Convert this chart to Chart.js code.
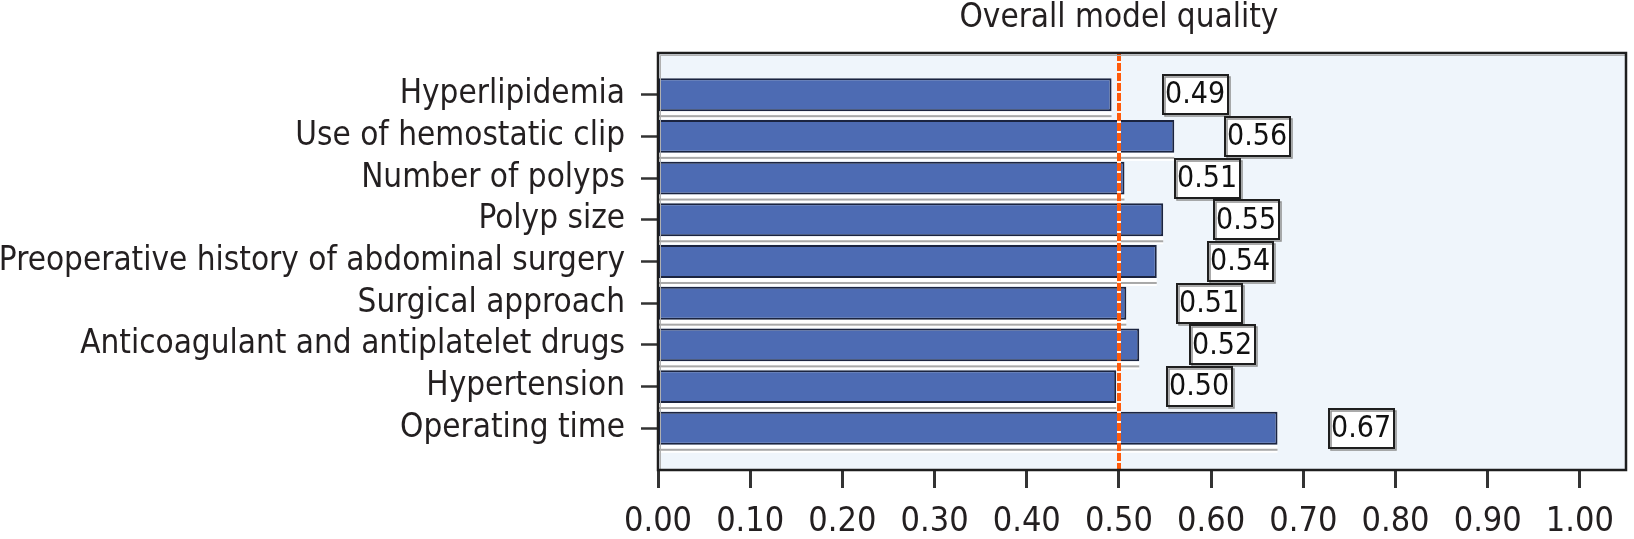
<!DOCTYPE html>
<html>
<head>
<meta charset="utf-8">
<script src="https://cdn.jsdelivr.net/npm/chart.js@4.4.1/dist/chart.umd.min.js"></script>
<style>
  html, body { margin: 0; padding: 0; background: #ffffff; }
  #wrap { width: 1634px; height: 539px; }
</style>
</head>
<body>
<div id="wrap"><canvas id="qualityChart"></canvas></div>
<script>
// data
const categories = [
    'Hyperlipidemia',
    'Use of hemostatic clip',
    'Number of polyps',
    'Polyp size',
    'Preoperative history of abdominal surgery',
    'Surgical approach',
    'Anticoagulant and antiplatelet drugs',
    'Hypertension',
    'Operating time'
];
const values = [0.492, 0.560, 0.506, 0.548, 0.541, 0.508, 0.522, 0.497, 0.672];
const valueLabels = ['0.49', '0.56', '0.51', '0.55', '0.54', '0.51', '0.52', '0.50', '0.67'];
const referenceLine = 0.5;
const xMin = 0, xMax = 1.05, xStep = 0.1;
const chartTitle = 'Overall model quality';

const FONT = "'DejaVu Sans Condensed', 'DejaVu Sans', sans-serif";
const TEXT = '#231f20';

// one empty slot above and below, like the original axis
const yLabels = ['', ...categories, ''];
const yData = [null, ...values, null];
const boxLabels = ['', ...valueLabels, ''];

const decor = {
    id: 'decor',
    beforeDraw(chart) {
        const { ctx, chartArea: a } = chart;
        ctx.save();
        ctx.fillStyle = '#eff5fb';
        ctx.fillRect(a.left, a.top, a.right - a.left, a.bottom - a.top);
        ctx.restore();
    },
    beforeDatasetsDraw(chart) {
        // white strip + soft grey shadow under every bar
        const { ctx } = chart;
        ctx.save();
        chart.getDatasetMeta(0).data.forEach((bar, i) => {
            if (yData[i] == null) return;
            const yb = bar.y + bar.height / 2;
            ctx.fillStyle = '#ffffff';
            ctx.fillRect(bar.base, yb, bar.x - bar.base, 8);
            ctx.fillStyle = '#a8a8a8';
            ctx.fillRect(bar.base, yb + 4, bar.x - bar.base, 2);
        });
        ctx.restore();
    },
    afterDatasetsDraw(chart) {
        const { ctx, chartArea: a } = chart;
        const xs = chart.scales.x;
        const lx = Math.round(xs.getPixelForValue(referenceLine));

        ctx.save();
        ctx.strokeStyle = '#fff3ea';
        ctx.lineWidth = 4;
        ctx.beginPath();
        ctx.moveTo(lx, a.top);
        ctx.lineTo(lx, a.bottom);
        ctx.stroke();
        ctx.strokeStyle = '#ff5a0a';
        ctx.setLineDash([8, 2]);
        ctx.stroke();
        ctx.setLineDash([]);

        // value boxes
        ctx.font = '30px ' + FONT;
        ctx.textBaseline = 'middle';
        ctx.textAlign = 'left';
        chart.getDatasetMeta(0).data.forEach((bar, i) => {
            if (yData[i] == null) return;
            const txt = boxLabels[i];
            const w = Math.round(ctx.measureText(txt).width + 5);
            const h = 39;
            const bx = Math.round(bar.x + 51);
            const by = Math.round(bar.y - h / 2);
            ctx.fillStyle = '#ffffff';
            ctx.fillRect(bx, by, w, h);
            ctx.strokeStyle = '#8f8f8f';
            ctx.lineWidth = 1.5;
            ctx.strokeRect(bx + 2, by + 2, w, h);
            ctx.strokeStyle = '#1e1e1e';
            ctx.lineWidth = 2;
            ctx.strokeRect(bx, by, w, h);
            ctx.fillStyle = '#111111';
            ctx.fillText(txt, bx + 2, bar.y + 1);
        });
        ctx.restore();
    },
    afterDraw(chart) {
        const { ctx, chartArea: a } = chart;
        ctx.save();
        ctx.strokeStyle = '#b0b0b0';
        ctx.lineWidth = 1;
        ctx.strokeRect(a.left + 2.5, a.top + 2.5, a.right - a.left - 2, a.bottom - a.top - 2);
        ctx.strokeStyle = '#1e1e1e';
        ctx.lineWidth = 2.5;
        ctx.strokeRect(a.left, a.top, a.right - a.left, a.bottom - a.top);

        // title, centred over the reference line like the original
        ctx.font = '33px ' + FONT;
        ctx.fillStyle = TEXT;
        ctx.textAlign = 'center';
        ctx.textBaseline = 'alphabetic';
        ctx.fillText(chartTitle, chart.scales.x.getPixelForValue(referenceLine), 27);
        ctx.restore();
    }
};

const qualityChart = new Chart(document.getElementById('qualityChart').getContext('2d'), {
    type: 'bar',
    data: {
        labels: yLabels,
        datasets: [{
            data: yData,
            backgroundColor: '#4d6bb3',
            borderColor: '#1b2440',
            borderWidth: 2,
            borderSkipped: false,
            categoryPercentage: 1,
            barPercentage: 0.79
        }]
    },
    options: {
        indexAxis: 'y',
        responsive: true,
        maintainAspectRatio: false,
        animation: false,
        devicePixelRatio: 1,
        layout: { padding: { left: 0, right: 8, top: 53, bottom: 0 } },
        plugins: {
            legend: { display: false },
            tooltip: { enabled: false },
            title: { display: false }
        },
        scales: {
            x: {
                type: 'linear',
                min: xMin,
                max: xMax,
                afterFit(scale) { scale.height = 69; },
                border: { display: false },
                grid: { drawOnChartArea: false, tickLength: 18, tickWidth: 3, color: '#333333' },
                ticks: {
                    stepSize: xStep,
                    includeBounds: false,
                    padding: 14,
                    color: TEXT,
                    font: { family: FONT, size: 34 },
                    callback: v => v.toFixed(2)
                }
            },
            y: {
                type: 'category',
                offset: false,
                afterFit(scale) { scale.width = 658; },
                border: { display: false },
                grid: {
                    offset: false,
                    drawOnChartArea: false,
                    tickLength: 17,
                    tickWidth: 2.5,
                    color: c => (c.index === 0 || c.index === yLabels.length - 1) ? 'rgba(0,0,0,0)' : '#333333'
                },
                ticks: {
                    padding: 16,
                    autoSkip: false,
                    color: TEXT,
                    font: { family: FONT, size: 33 }
                }
            }
        }
    },
    plugins: [decor]
});
</script>
</body>
</html>
